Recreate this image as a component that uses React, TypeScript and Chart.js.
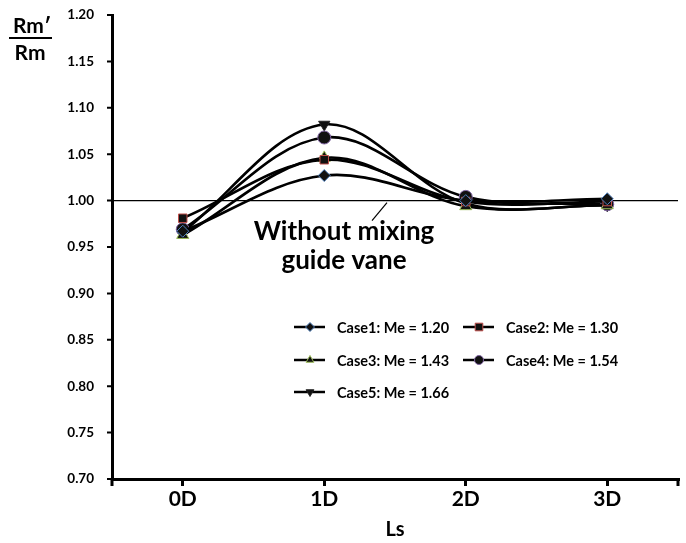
import React, { useEffect, useRef } from "react";
import { Chart, registerables } from "chart.js";

Chart.register(...registerables);

const categories = ["0D", "1D", "2D", "3D"];
const case1 = [0.967, 1.027, 1.0, 1.002];
const case2 = [0.981, 1.044, 0.999, 0.999];
const case3 = [0.963, 1.046, 0.994, 0.995];
const case4 = [0.969, 1.068, 1.004, 0.996];
const case5 = [0.966, 1.082, 0.997, 0.995];
const seriesLabels = [
  "Case1: Me = 1.20",
  "Case2: Me = 1.30",
  "Case3: Me = 1.43",
  "Case4: Me = 1.54",
  "Case5: Me = 1.66",
];
const yMin = 0.7;
const yMax = 1.2;
const yStep = 0.05;
const refValue = 1.0;
const annotationLines = ["Without mixing", "guide vane"];

const FONT = "Lato, 'Open Sans', sans-serif";

const markerStyles = [
  { style: "rectRot", rot: 0, border: "#4F81BD", fill: "#111", r: 6 },
  { style: "rect", rot: 0, border: "#C0504D", fill: "#111", r: 6 },
  { style: "triangle", rot: 0, border: "#9BBB59", fill: "#111", r: 7 },
  { style: "circle", rot: 0, border: "#8064A2", fill: "#111", r: 6.5 },
  { style: "triangle", rot: 180, border: "#222", fill: "#111", r: 6.5 },
];

function drawMarker(ctx: CanvasRenderingContext2D, m: any, x: number, y: number, r: number) {
  ctx.save();
  ctx.translate(x, y);
  ctx.rotate((m.rot * Math.PI) / 180);
  ctx.beginPath();
  if (m.style === "circle") {
    ctx.arc(0, 0, r, 0, Math.PI * 2);
  } else if (m.style === "rect") {
    const s = r * 0.85;
    ctx.rect(-s, -s, 2 * s, 2 * s);
  } else if (m.style === "rectRot") {
    ctx.moveTo(0, -r);
    ctx.lineTo(r, 0);
    ctx.lineTo(0, r);
    ctx.lineTo(-r, 0);
    ctx.closePath();
  } else {
    ctx.moveTo(0, -r);
    ctx.lineTo(r * 0.87, r * 0.5);
    ctx.lineTo(-r * 0.87, r * 0.5);
    ctx.closePath();
  }
  ctx.fillStyle = m.fill;
  ctx.fill();
  ctx.lineWidth = 1;
  ctx.strokeStyle = m.border;
  ctx.stroke();
  ctx.restore();
}

const extrasPlugin = {
  id: "extras",
  beforeDatasetsDraw(chart: any) {
    const { ctx, chartArea, scales } = chart;
    const y = scales.y.getPixelForValue(refValue);
    ctx.save();
    ctx.strokeStyle = "#000";
    ctx.lineWidth = 1.2;
    ctx.beginPath();
    ctx.moveTo(chartArea.left, y);
    ctx.lineTo(chartArea.right, y);
    ctx.stroke();
    ctx.restore();
  },
  afterDraw(chart: any) {
    const { ctx, chartArea, scales } = chart;
    ctx.save();
    ctx.strokeStyle = "#000";
    // y tick marks
    ctx.lineWidth = 2;
    ctx.beginPath();
    scales.y.ticks.forEach((t: any) => {
      const yy = scales.y.getPixelForValue(t.value);
      ctx.moveTo(chartArea.left - 5, yy);
      ctx.lineTo(chartArea.left, yy);
    });
    ctx.stroke();
    // end ticks on x axis
    ctx.lineWidth = 3;
    ctx.beginPath();
    ctx.moveTo(chartArea.left, chartArea.bottom);
    ctx.lineTo(chartArea.left, chartArea.bottom + 7);
    ctx.moveTo(chartArea.right, chartArea.bottom);
    ctx.lineTo(chartArea.right, chartArea.bottom + 7);
    ctx.stroke();

    // y title fraction
    ctx.fillStyle = "#000";
    ctx.font = `bold 21px ${FONT}`;
    ctx.textAlign = "center";
    ctx.textBaseline = "alphabetic";
    ctx.fillText("Rm\u2032", 32, 33);
    ctx.fillText("Rm", 30, 60);
    ctx.lineWidth = 2;
    ctx.beginPath();
    ctx.moveTo(9, 38);
    ctx.lineTo(52, 38);
    ctx.stroke();

    // annotation
    const cx = 344;
    ctx.font = `bold 26px ${FONT}`;
    ctx.textBaseline = "alphabetic";
    ctx.fillText(annotationLines[0], cx, 240);
    ctx.fillText(annotationLines[1], cx, 269);
    const yRef = scales.y.getPixelForValue(refValue);
    ctx.lineWidth = 1.2;
    ctx.beginPath();
    ctx.moveTo(387, yRef + 2);
    ctx.lineTo(372, yRef + 20);
    ctx.stroke();

    // legend
    ctx.font = `bold 14.5px ${FONT}`;
    ctx.textAlign = "left";
    ctx.textBaseline = "middle";
    const cols = [294, 463];
    const rows = [327, 360, 392];
    seriesLabels.forEach((lab, i) => {
      const col = i % 2;
      const row = Math.floor(i / 2);
      const x0 = cols[col];
      const yy = rows[row];
      ctx.strokeStyle = "#000";
      ctx.lineWidth = 2.5;
      ctx.beginPath();
      ctx.moveTo(x0, yy);
      ctx.lineTo(x0 + 31, yy);
      ctx.stroke();
      drawMarker(ctx, markerStyles[i], x0 + 16, yy, 4.5);
      ctx.fillStyle = "#000";
      ctx.fillText(lab, x0 + 43, yy + 1);
    });
    ctx.restore();
  },
};

export default function App() {
  const ref = useRef<HTMLCanvasElement | null>(null);
  useEffect(() => {
    if (!ref.current) return;
    const all = [case1, case2, case3, case4, case5];
    const chart = new Chart(ref.current, {
      type: "line",
      data: {
        labels: categories,
        datasets: all.map((d, i) => ({
          label: seriesLabels[i],
          data: d,
          borderColor: "#000",
          borderWidth: 2.6,
          tension: 0.35,
          pointStyle: markerStyles[i].style as any,
          rotation: markerStyles[i].rot,
          pointRadius: markerStyles[i].r,
          pointBackgroundColor: markerStyles[i].fill,
          pointBorderColor: markerStyles[i].border,
          pointBorderWidth: 1,
          fill: false,
        })),
      },
      options: {
        responsive: false,
        animation: false,
        layout: { padding: { left: 0, right: 6, top: 15, bottom: 0 } },
        plugins: { legend: { display: false }, tooltip: { enabled: false } },
        scales: {
          x: {
            type: "category",
            offset: true,
            grid: { drawOnChartArea: false, offset: false, tickLength: 7, color: "#000", lineWidth: 3 },
            border: { display: true, color: "#000", width: 3 },
            ticks: { color: "#000", font: { family: FONT, size: 21, weight: "bold" }, padding: 1 },
            title: {
              display: true,
              text: "Ls",
              color: "#000",
              font: { family: FONT, size: 20, weight: "bold" },
              padding: { top: 0, bottom: 1 },
            },
            afterFit: (s: any) => {
              s.height = 64;
            },
          },
          y: {
            min: yMin,
            max: yMax,
            grid: { drawOnChartArea: false, drawTicks: true, tickLength: 18, tickColor: "rgba(0,0,0,0)" },
            border: { display: true, color: "#000", width: 3 },
            ticks: {
              stepSize: yStep,
              color: "#000",
              font: { family: FONT, size: 13.5, weight: "bold" },
              padding: 0,
              callback: (v: any) => Number(v).toFixed(2),
            },
            afterFit: (s: any) => {
              s.width = 112;
            },
          },
        },
      },
      plugins: [extrasPlugin],
    });
    return () => chart.destroy();
  }, []);
  return (
    <div style={{ position: "fixed", left: 0, top: 0, width: 686, height: 543, background: "#fff" }}>
      <canvas ref={ref} width={686} height={543} />
    </div>
  );
}
